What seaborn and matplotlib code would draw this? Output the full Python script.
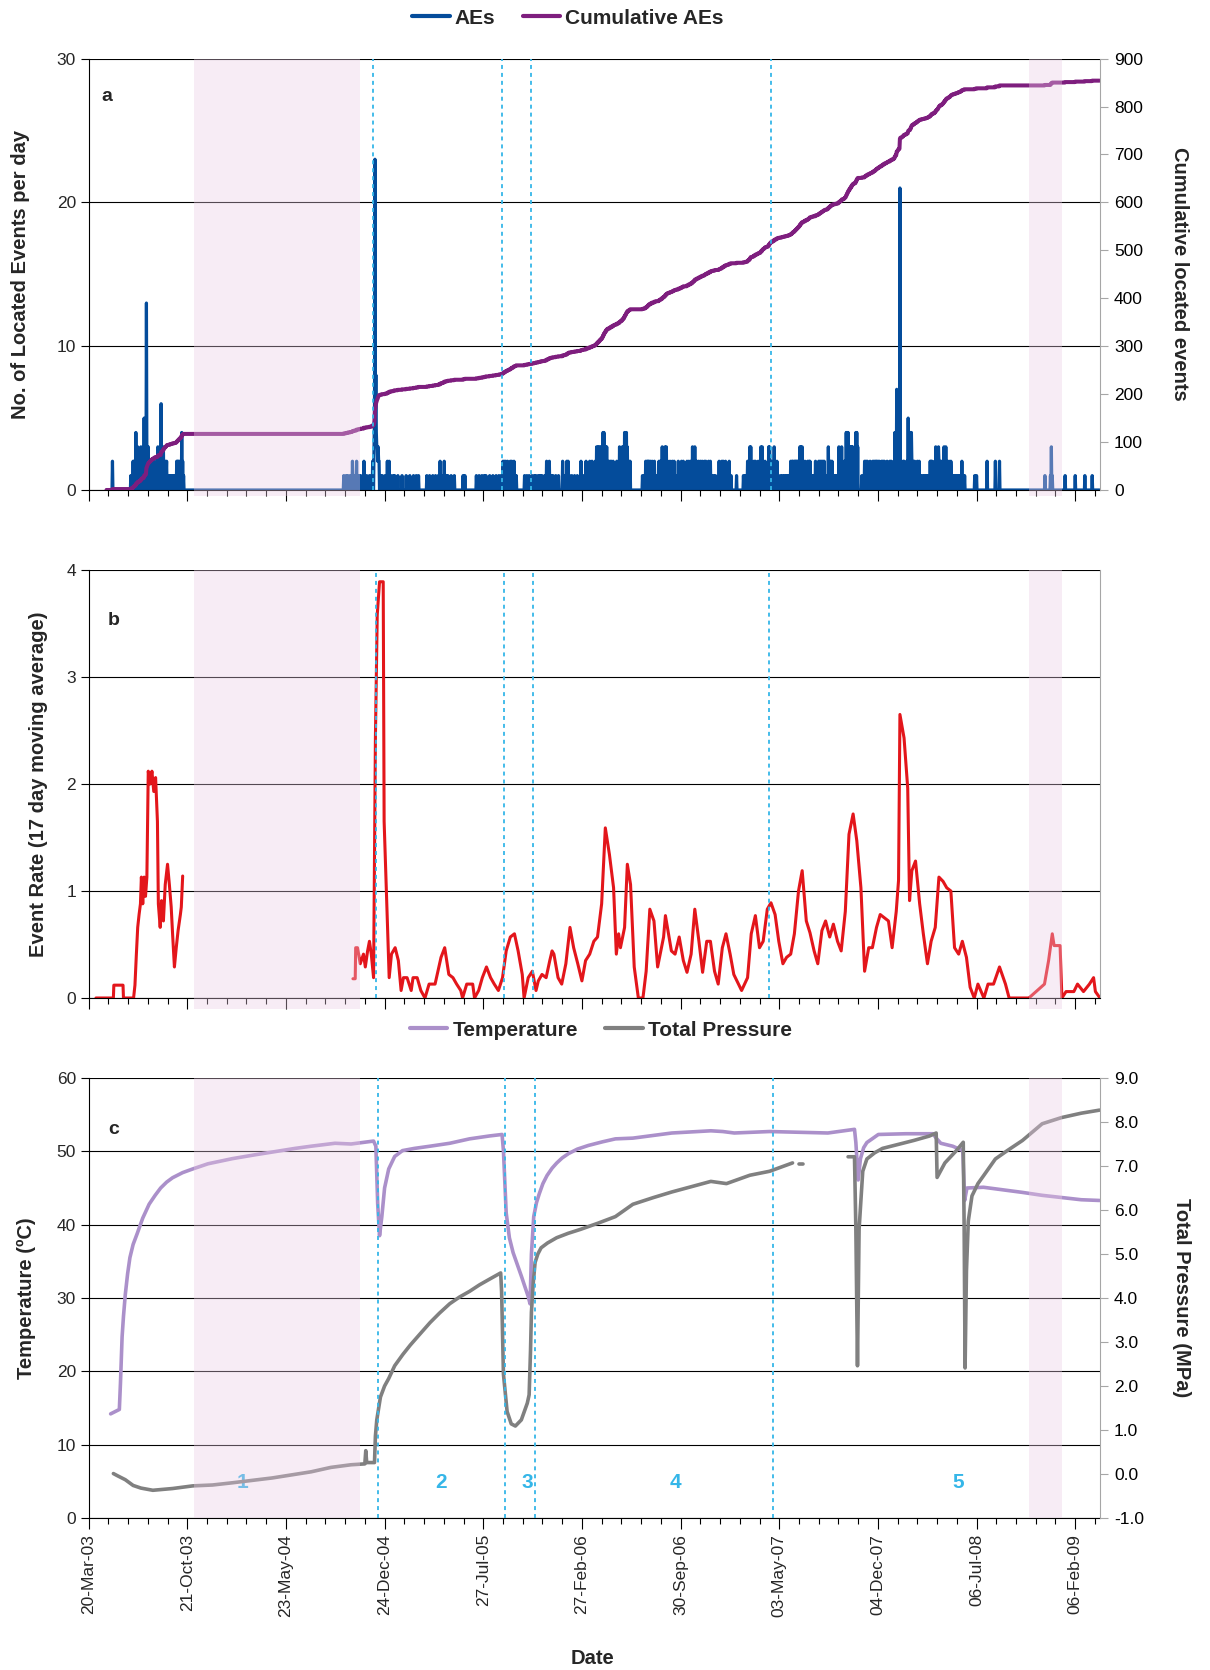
import numpy as np
import pandas as pd
import matplotlib
matplotlib.use("Agg")
import matplotlib.pyplot as plt
import matplotlib.dates as mdates
import matplotlib.transforms as mtrans
from matplotlib.lines import Line2D
from matplotlib.patches import Rectangle
from matplotlib.ticker import FixedLocator, FormatStrFormatter
import seaborn as sns

# ---------------------------------------------------------------- data
START = pd.Timestamp("2003-03-20")          # day 0 of the record
X_END_DAY = 2204
TICK_STEP, MINOR_STEP = 215, 43

# located acoustic emissions: (day, events located that day)
AE_RECORD = (39, 2203)
AE_EVENTS = [
    (52, 2), (92, 1), (95, 1), (97, 2), (99, 2), (101, 1), (103, 4), (105, 1), (107, 3), (110, 1), (112, 1),
    (114, 3), (116, 2), (118, 1), (121, 5), (124, 3), (126, 13), (127, 2), (128, 3), (129, 2), (130, 3),
    (132, 2), (134, 2), (136, 2), (138, 2), (141, 2), (144, 2), (147, 1), (151, 3), (154, 1), (158, 6),
    (160, 2), (161, 1), (163, 3), (165, 2), (166, 1), (167, 2), (169, 1), (170, 2), (172, 1), (176, 1),
    (179, 1), (182, 1), (186, 1), (190, 1), (192, 2), (194, 2), (196, 2), (197, 1), (199, 2), (201, 2),
    (203, 4), (205, 2), (207, 1),
    (556, 1), (561, 1), (565, 1), (570, 1), (575, 2), (579, 1), (584, 2), (589, 1), (593, 1), (600, 2),
    (606, 1), (612, 1), (617, 1), (619, 2), (622, 3), (623, 5), (624, 23), (625, 5), (626, 8), (627, 4),
    (628, 3), (629, 3), (630, 2), (631, 3), (632, 2), (633, 2), (636, 1), (640, 1), (646, 1), (651, 2),
    (655, 2), (659, 1), (664, 1), (667, 1), (674, 1), (683, 1), (692, 1), (700, 1), (708, 1), (714, 1),
    (719, 1), (737, 1), (743, 1), (750, 1), (756, 1), (762, 1), (766, 2), (769, 1), (772, 1), (775, 2),
    (779, 1), (783, 1), (790, 1), (797, 1), (816, 1), (820, 1), (845, 1), (851, 1), (857, 1), (862, 1),
    (866, 1), (874, 1), (881, 1), (888, 1), (894, 1), (899, 1), (903, 2), (906, 2), (909, 2), (913, 2),
    (916, 1), (919, 2), (922, 2), (925, 1), (927, 2), (930, 1), (932, 1), (950, 1), (955, 1), (960, 1),
    (966, 1), (971, 1), (975, 1), (980, 1), (984, 1), (988, 1), (994, 1), (998, 2), (1001, 1), (1004, 2),
    (1008, 1), (1012, 1), (1018, 1), (1024, 1), (1033, 2), (1038, 1), (1042, 2), (1045, 2), (1048, 1),
    (1053, 1), (1059, 1), (1065, 1), (1073, 2), (1078, 1), (1084, 2), (1088, 1), (1092, 2), (1097, 2),
    (1101, 1), (1104, 2), (1107, 3), (1110, 3), (1113, 3), (1116, 3), (1119, 3), (1121, 4), (1123, 4),
    (1125, 3), (1127, 3), (1129, 3), (1132, 2), (1136, 2), (1139, 2), (1143, 2), (1145, 1), (1147, 1),
    (1151, 2), (1154, 1), (1157, 3), (1160, 2), (1163, 3), (1166, 3), (1168, 4), (1170, 3), (1172, 4),
    (1174, 3), (1177, 2), (1180, 2), (1207, 1), (1211, 1), (1214, 2), (1217, 2), (1219, 2), (1221, 2),
    (1224, 2), (1228, 2), (1233, 2), (1237, 1), (1243, 2), (1246, 2), (1250, 3), (1253, 2), (1256, 3),
    (1259, 3), (1262, 2), (1267, 2), (1272, 2), (1276, 2), (1280, 1), (1285, 2), (1289, 1), (1292, 2),
    (1296, 2), (1304, 2), (1308, 2), (1312, 2), (1316, 3), (1319, 2), (1321, 3), (1325, 2), (1329, 2),
    (1333, 2), (1337, 2), (1342, 2), (1345, 2), (1348, 1), (1351, 2), (1355, 2), (1358, 1), (1362, 1),
    (1366, 1), (1374, 2), (1377, 1), (1380, 2), (1383, 2), (1386, 1), (1388, 2), (1392, 1), (1396, 2),
    (1400, 1), (1412, 1), (1427, 1), (1431, 1), (1436, 2), (1438, 2), (1441, 3), (1443, 3), (1447, 1),
    (1450, 2), (1453, 2), (1456, 1), (1459, 2), (1462, 1), (1465, 3), (1468, 3), (1470, 2), (1472, 1),
    (1474, 2), (1476, 1), (1479, 1), (1482, 3), (1484, 3), (1486, 2), (1488, 2), (1491, 1), (1494, 3),
    (1497, 1), (1500, 2), (1503, 1), (1508, 1), (1512, 1), (1516, 1), (1520, 1), (1524, 1), (1527, 1),
    (1530, 2), (1533, 2), (1535, 2), (1538, 2), (1540, 2), (1542, 2), (1544, 2), (1546, 2), (1548, 2),
    (1550, 3), (1552, 3), (1555, 3), (1558, 1), (1561, 2), (1564, 1), (1567, 2), (1570, 2), (1572, 2),
    (1576, 1), (1579, 1), (1584, 2), (1588, 1), (1591, 2), (1594, 2), (1597, 2), (1600, 2), (1603, 2),
    (1606, 1), (1610, 1), (1612, 3), (1615, 2), (1617, 2), (1620, 2), (1623, 1), (1627, 1), (1631, 1),
    (1635, 3), (1638, 2), (1641, 3), (1644, 1), (1647, 2), (1649, 2), (1651, 4), (1653, 4), (1655, 4),
    (1657, 3), (1659, 3), (1661, 3), (1663, 3), (1665, 3), (1668, 2), (1672, 4), (1674, 4), (1676, 3),
    (1685, 1), (1691, 2), (1694, 2), (1697, 2), (1700, 1), (1703, 2), (1706, 1), (1709, 2), (1712, 2),
    (1715, 2), (1717, 2), (1720, 2), (1723, 2), (1725, 1), (1728, 2), (1731, 2), (1734, 2), (1737, 1),
    (1740, 2), (1742, 1), (1746, 2), (1749, 2), (1752, 1), (1755, 2), (1757, 4), (1759, 3), (1761, 7),
    (1763, 2), (1764, 2), (1766, 2), (1768, 21), (1769, 2), (1772, 1), (1774, 1), (1775, 2), (1777, 2),
    (1780, 1), (1783, 2), (1786, 5), (1788, 2), (1791, 4), (1793, 4), (1794, 2), (1797, 2), (1800, 2),
    (1802, 1), (1804, 1), (1806, 2), (1808, 1), (1810, 2), (1813, 1), (1817, 1), (1821, 1), (1825, 1),
    (1828, 1), (1830, 1), (1832, 1), (1834, 2), (1836, 2), (1838, 2), (1841, 1), (1844, 2), (1846, 3),
    (1848, 2), (1850, 2), (1852, 3), (1853, 2), (1855, 2), (1858, 2), (1861, 1), (1862, 2), (1864, 3),
    (1866, 2), (1868, 3), (1870, 2), (1873, 1), (1875, 2), (1877, 1), (1879, 2), (1880, 1), (1882, 1),
    (1885, 1), (1888, 1), (1891, 1), (1894, 1), (1896, 1), (1899, 1), (1901, 1), (1903, 2), (1906, 1),
    (1909, 1), (1931, 1), (1935, 1), (1958, 2), (1976, 2), (1985, 2), (2084, 1), (2096, 1), (2098, 3),
    (2100, 1), (2128, 1), (2150, 1), (2171, 1), (2187, 1),
]

# event rate, 17 day moving average: (day, events/day) for the two monitored periods
RATE_PERIOD_1 = [
    (16, 0), (54, 0), (55, 0.12), (75, 0.12), (76, 0), (98, 0), (101, 0.12), (104, 0.4), (107, 0.66),
    (110, 0.78), (113, 0.88), (115, 1.13), (118, 0.88), (121, 1.13), (124, 0.95), (127, 1.13), (130, 2.12),
    (134, 2.0), (138, 2.12), (142, 1.93), (146, 2.06), (150, 1.65), (152, 0.88), (156, 0.66), (159, 0.91),
    (163, 0.72), (167, 1.06), (172, 1.25), (176, 1.06), (180, 0.85), (183, 0.6), (187, 0.29), (191, 0.47),
    (195, 0.63), (200, 0.78), (202, 0.85), (205, 1.14),
]
RATE_PERIOD_2 = [
    (576, 0.18), (581, 0.18), (582, 0.47), (586, 0.47), (592, 0.32), (599, 0.41), (603, 0.29), (608, 0.44),
    (612, 0.53), (616, 0.41), (621, 0.19), (625, 2.43), (629, 3.58), (634, 3.89), (642, 3.89), (644, 1.65),
    (651, 0.72), (655, 0.19), (660, 0.41), (668, 0.47), (675, 0.35), (681, 0.07), (686, 0.19), (694, 0.19),
    (703, 0.07), (707, 0.19), (716, 0.19), (724, 0.07), (733, 0.0), (742, 0.13), (755, 0.13), (768, 0.38),
    (776, 0.47), (785, 0.22), (794, 0.19), (802, 0.13), (811, 0.07), (815, 0.0), (824, 0.13), (837, 0.13),
    (841, 0.0), (850, 0.07), (858, 0.19), (867, 0.29), (876, 0.19), (884, 0.13), (893, 0.07), (902, 0.19),
    (910, 0.44), (919, 0.57), (928, 0.6), (936, 0.44), (945, 0.22), (949, 0.0), (958, 0.19), (967, 0.25),
    (975, 0.07), (980, 0.16), (988, 0.22), (997, 0.19), (1005, 0.35), (1010, 0.44), (1014, 0.41),
    (1023, 0.19), (1031, 0.13), (1040, 0.32), (1049, 0.66), (1057, 0.47), (1066, 0.32), (1075, 0.16),
    (1083, 0.35), (1092, 0.41), (1101, 0.53), (1109, 0.57), (1118, 0.88), (1126, 1.59), (1135, 1.34),
    (1144, 1.03), (1150, 0.41), (1155, 0.6), (1159, 0.47), (1168, 0.66), (1174, 1.25), (1181, 1.06),
    (1189, 0.29), (1198, 0.0), (1208, 0.0), (1215, 0.25), (1223, 0.83), (1232, 0.72), (1240, 0.29),
    (1253, 0.57), (1257, 0.77), (1270, 0.44), (1278, 0.41), (1287, 0.57), (1296, 0.35), (1304, 0.24),
    (1313, 0.41), (1321, 0.83), (1330, 0.53), (1338, 0.24), (1347, 0.53), (1355, 0.53), (1364, 0.25),
    (1372, 0.13), (1381, 0.47), (1389, 0.6), (1398, 0.41), (1406, 0.22), (1423, 0.07), (1436, 0.19),
    (1444, 0.6), (1453, 0.77), (1462, 0.47), (1470, 0.53), (1479, 0.83), (1487, 0.89), (1496, 0.78),
    (1504, 0.53), (1513, 0.32), (1521, 0.38), (1530, 0.41), (1538, 0.6), (1547, 1.0), (1555, 1.19),
    (1564, 0.72), (1572, 0.61), (1581, 0.44), (1589, 0.32), (1598, 0.63), (1606, 0.72), (1615, 0.57),
    (1623, 0.69), (1632, 0.53), (1640, 0.44), (1649, 0.81), (1657, 1.53), (1666, 1.72), (1674, 1.47),
    (1683, 1.03), (1691, 0.25), (1700, 0.47), (1708, 0.47), (1717, 0.66), (1725, 0.78), (1734, 0.75),
    (1743, 0.72), (1751, 0.47), (1760, 0.81), (1765, 1.1), (1768, 2.65), (1777, 2.43), (1785, 1.96),
    (1789, 0.91), (1794, 1.19), (1802, 1.28), (1811, 0.88), (1819, 0.6), (1828, 0.32), (1836, 0.53),
    (1845, 0.66), (1853, 1.13), (1862, 1.09), (1870, 1.03), (1879, 1.0), (1887, 0.47), (1896, 0.41),
    (1904, 0.53), (1913, 0.38), (1921, 0.1), (1930, 0.0), (1938, 0.13), (1951, 0.0), (1960, 0.13),
    (1972, 0.13), (1985, 0.29), (1998, 0.13), (2006, 0.0), (2049, 0.0), (2083, 0.13), (2092, 0.35),
    (2100, 0.6), (2104, 0.49), (2117, 0.49), (2121, 0.0), (2130, 0.06), (2147, 0.06), (2155, 0.13),
    (2168, 0.06), (2181, 0.13), (2190, 0.19), (2194, 0.06), (2204, 0.0),
]

# temperature (degC)
TEMPERATURE = [
    (48, 14.2), (67, 14.8), (69.5, 18.5), (73, 24.7), (76, 27.5), (80, 30.5), (85, 33.3), (90, 35.5),
    (97, 37.3), (106, 38.8), (118, 40.9), (132, 42.8), (145, 44.0), (157, 45.0), (170, 45.8), (183, 46.4),
    (205, 47.1), (227, 47.6), (260, 48.3), (313, 49.0), (360, 49.5), (400, 49.9), (450, 50.4), (485, 50.7),
    (537, 51.1), (572, 51.0), (621, 51.4), (626, 50.7), (630, 42.8), (634, 38.5), (639, 41.1), (645, 45.0),
    (654, 47.6), (667, 49.3), (684, 50.1), (710, 50.4), (744, 50.7), (787, 51.1), (830, 51.7), (874, 52.1),
    (901, 52.3), (904, 50.1), (910, 41.6), (917, 38.2), (925, 36.2), (934, 34.6), (943, 33.0), (951, 31.5),
    (958, 30.2), (962, 29.2), (965, 36.0), (970, 41.1), (976, 43.0), (982, 44.2), (990, 45.6), (999, 46.7),
    (1010, 47.7), (1020, 48.4), (1032, 49.1), (1046, 49.7), (1065, 50.3), (1089, 50.8), (1120, 51.3),
    (1148, 51.7), (1186, 51.8), (1271, 52.5), (1356, 52.8), (1382, 52.7), (1407, 52.5), (1484, 52.7),
    (1611, 52.5), (1669, 53.0), (1672, 51.2), (1677, 46.1), (1682, 49.0), (1689, 50.5), (1696, 51.2),
    (1721, 52.3), (1781, 52.4), (1840, 52.4), (1847, 51.8), (1857, 51.1), (1883, 50.7), (1905, 50.1),
    (1909, 43.3), (1914, 45.0), (1950, 45.1), (2035, 44.4), (2078, 44.0), (2163, 43.4), (2203, 43.3),
]

# total pressure (MPa), three recorded stretches
PRESSURE_1 = [
    (54, 0.01), (63, -0.04), (80, -0.13), (97, -0.26), (114, -0.32), (140, -0.37), (183, -0.33),
    (227, -0.27), (270, -0.25), (313, -0.2), (400, -0.09), (485, 0.05), (528, 0.15), (572, 0.21),
    (602, 0.23), (604, 0.53), (606, 0.26), (623, 0.26), (625, 0.86), (628, 1.23), (636, 1.75), (645, 2.0),
    (654, 2.17), (667, 2.46), (685, 2.72), (701, 2.93), (722, 3.18), (744, 3.44), (765, 3.66), (787, 3.87),
    (808, 4.02), (830, 4.15), (852, 4.3), (874, 4.43), (898, 4.57), (900, 4.15), (904, 2.27), (912, 1.42),
    (921, 1.14), (930, 1.09), (943, 1.23), (956, 1.61), (960, 1.8), (963, 2.8), (965, 3.68), (969, 4.35),
    (973, 4.81), (979, 5.0), (986, 5.14), (1000, 5.25), (1020, 5.37), (1045, 5.47), (1072, 5.56),
    (1110, 5.7), (1148, 5.85), (1186, 6.13), (1230, 6.28), (1271, 6.41), (1310, 6.52), (1356, 6.65),
    (1390, 6.6), (1441, 6.79), (1484, 6.88), (1534, 7.07),
]
PRESSURE_2 = [(1547, 7.05), (1556, 7.05)]
PRESSURE_3 = [
    (1655, 7.21), (1669, 7.21), (1672, 5.56), (1675.5, 2.46), (1679, 5.56), (1687, 6.88), (1696, 7.16),
    (1713, 7.3), (1730, 7.4), (1764, 7.49), (1798, 7.58), (1832, 7.68), (1847, 7.75), (1849, 6.74),
    (1866, 7.07), (1891, 7.35), (1906, 7.54), (1908, 5.56), (1910, 2.41), (1913, 4.62), (1917, 5.75),
    (1925, 6.32), (1938, 6.6), (1951, 6.79), (1976, 7.16), (2002, 7.35), (2035, 7.58), (2078, 7.96),
    (2120, 8.1), (2163, 8.2), (2203, 8.27),
]

# shaded periods, stage boundaries and stage numbers
SHADED = [(229, 591), (2050, 2122)]
STAGE_LINES = {"a": [620, 901, 965, 1487], "b": [626, 905, 969, 1482], "c": [630, 908, 973, 1492]}
STAGES = [("1", 336), ("2", 768), ("3", 956), ("4", 1279), ("5", 1896)]

# ---------------------------------------------------------------- style
BLUE, PURPLE, RED = "#044C9B", "#7E1E7E", "#E3161B"
LAVENDER, GREY, CYAN = "#AB90CA", "#808080", "#35B6E8"
SHADE, SHADE_ALPHA = "#EBCBE5", 0.36
RIGHT_SPINE = "#A6A6A6"

sns.set_theme(style="white")
plt.rcParams["font.family"] = ["Liberation Sans", "DejaVu Sans"]
plt.rcParams["axes.linewidth"] = 0.8
TICK_FS, LABEL_FS = 12.5, 14.5


def dates(days):
    return START + pd.to_timedelta(np.asarray(days, dtype=float), unit="D")


def frame(pairs, name):
    arr = np.asarray(pairs, dtype=float)
    return pd.DataFrame({"date": dates(arr[:, 0]), name: arr[:, 1]})


days = np.arange(AE_RECORD[0], AE_RECORD[1] + 1)
counts = np.zeros(days.size)
ev = np.asarray(AE_EVENTS)
np.add.at(counts, ev[:, 0] - AE_RECORD[0], ev[:, 1])
ae = pd.DataFrame({"date": dates(days), "AEs": counts, "cumulative": np.cumsum(counts)})

rate = pd.concat([frame(RATE_PERIOD_1, "rate").assign(seg=1),
                  frame(RATE_PERIOD_2, "rate").assign(seg=2)], ignore_index=True)
temp = frame(TEMPERATURE, "temperature")
press = pd.concat([frame(p, "pressure").assign(seg=i)
                   for i, p in enumerate([PRESSURE_1, PRESSURE_2, PRESSURE_3])], ignore_index=True)

# ---------------------------------------------------------------- figure
W_PX, H_PX = 1210, 1670
fig = plt.figure(figsize=(W_PX / 100, H_PX / 100), dpi=100)
X_LEFT, X_RIGHT = 88.6, 1100.0


def box(top, bottom):
    return [X_LEFT / W_PX, 1 - bottom / H_PX, (X_RIGHT - X_LEFT) / W_PX, (bottom - top) / H_PX]


ax_a = fig.add_axes(box(58.6, 490))
ax_b = fig.add_axes(box(570, 998))
ax_c = fig.add_axes(box(1078, 1518))
ax_a2 = ax_a.twinx()
ax_c2 = ax_c.twinx()

sns.lineplot(data=ae, x="date", y="AEs", ax=ax_a, color=BLUE, lw=2.3, estimator=None)
sns.lineplot(data=ae, x="date", y="cumulative", ax=ax_a2, color=PURPLE, lw=2.9, estimator=None)
sns.lineplot(data=rate, x="date", y="rate", units="seg", estimator=None, ax=ax_b, color=RED, lw=2.2)
sns.lineplot(data=temp, x="date", y="temperature", ax=ax_c, color=LAVENDER, lw=2.6, estimator=None)
sns.lineplot(data=press, x="date", y="pressure", units="seg", estimator=None, ax=ax_c2, color=GREY, lw=2.6)

x_lim = (dates([0])[0], dates([X_END_DAY])[0])
majors = mdates.date2num(dates(np.arange(0, X_END_DAY, TICK_STEP)))
minors = mdates.date2num(dates(np.arange(0, X_END_DAY, MINOR_STEP)))

for ax, ylim, yt in [(ax_a, (0, 30), np.arange(0, 31, 10)),
                     (ax_b, (0, 4), np.arange(0, 5, 1)),
                     (ax_c, (0, 60), np.arange(0, 61, 10))]:
    ax.set_ylim(*ylim)
    ax.set_yticks(yt)
    ax.yaxis.grid(True, color="black", lw=0.8)
    ax.xaxis.grid(False)
    ax.set_axisbelow(True)
    ax.set_xlabel("")
    ax.set_ylabel("")
    ax.xaxis.set_major_locator(FixedLocator(majors))
    ax.xaxis.set_minor_locator(FixedLocator(minors))
    ax.xaxis.set_major_formatter(mdates.DateFormatter("%d-%b-%y"))
    ax.tick_params(axis="x", which="major", bottom=True, direction="out", length=8, width=0.8,
                   color="black", labelsize=TICK_FS)
    ax.tick_params(axis="x", which="minor", bottom=True, direction="out", length=4, width=0.8, color="black")
    ax.tick_params(axis="y", left=True, direction="out", length=6, width=0.8, color="black",
                   labelsize=TICK_FS, pad=3)
    for s in ("top", "right"):
        ax.spines[s].set_visible(False)
    for s in ("left", "bottom"):
        ax.spines[s].set_color("black")
        ax.spines[s].set_linewidth(0.8)

ax_a.tick_params(axis="x", labelbottom=False)
ax_b.tick_params(axis="x", labelbottom=False)
for lab in ax_c.get_xticklabels():
    lab.set_rotation(90)

# panel b keeps a grey frame line on the right
ax_b.spines["right"].set_visible(True)
ax_b.spines["right"].set_color(RIGHT_SPINE)

for ax2, ylim, yt, fmt in [(ax_a2, (0, 900), np.arange(0, 901, 100), "%d"),
                           (ax_c2, (-1, 9), np.arange(-1, 9.01, 1), "%.1f")]:
    ax2.set_ylim(*ylim)
    ax2.set_yticks(yt)
    ax2.yaxis.set_major_formatter(FormatStrFormatter(fmt))
    ax2.grid(False)
    ax2.set_ylabel("")
    ax2.tick_params(axis="y", right=True, direction="out", length=6, width=0.8, color=RIGHT_SPINE,
                    labelcolor="black", labelsize=TICK_FS, pad=4)
    for s in ("top", "left", "bottom"):
        ax2.spines[s].set_visible(False)
    ax2.spines["right"].set_color(RIGHT_SPINE)
    ax2.spines["right"].set_linewidth(0.8)

# stage numbers (under the shading)
for txt, d in STAGES:
    ax_c.text(dates([d])[0], 4.8, txt, color=CYAN, fontsize=15, fontweight="bold",
              ha="center", va="center", zorder=3)


def shade(ax, y_low):
    trans = mtrans.blended_transform_factory(ax.transData, ax.transAxes)
    for d0, d1 in SHADED:
        x0, x1 = mdates.date2num(dates([d0, d1]))
        ax.add_patch(Rectangle((x0, y_low), x1 - x0, 1 - y_low, transform=trans, facecolor=SHADE,
                               alpha=SHADE_ALPHA, lw=0, zorder=10, clip_on=False))


def stage_lines(ax, key):
    for d in STAGE_LINES[key]:
        ax.axvline(dates([d])[0], color=CYAN, lw=1.3, ls=(0, (2.2, 2.2)), zorder=8)


stage_lines(ax_a2, "a")
stage_lines(ax_b, "b")
stage_lines(ax_c2, "c")
shade(ax_a2, -0.015)
shade(ax_b, -0.025)
shade(ax_c2, 0.0)
for ax in (ax_a, ax_b, ax_c, ax_a2, ax_c2):
    ax.set_xlim(*x_lim)

# panel letters
for ax, letter, (xf, yf) in [(ax_a2, "a", (0.018, 0.913)), (ax_b, "b", (0.025, 0.883)),
                             (ax_c2, "c", (0.025, 0.884))]:
    ax.text(xf, yf, letter, transform=ax.transAxes, fontsize=14, fontweight="bold",
            ha="center", va="center")

# axis titles
bold = dict(fontsize=LABEL_FS, fontweight="bold", ha="center", va="center")
fig.text(21 / W_PX, 1 - 274 / H_PX, "No. of Located Events per day", rotation=90, **bold)
fig.text(1180 / W_PX, 1 - 274 / H_PX, "Cumulative located events", rotation=270, **bold)
fig.text(39 / W_PX, 1 - 784 / H_PX, "Event Rate (17 day moving average)", rotation=90, **bold)
fig.text(26 / W_PX, 1 - 1298 / H_PX, "Temperature (\u00baC)", rotation=90, **bold)
fig.text(1182 / W_PX, 1 - 1298 / H_PX, "Total Pressure (MPa)", rotation=270, **bold)
fig.text(592 / W_PX, 1 - 1658 / H_PX, "Date", **bold)

# legends
leg_kw = dict(frameon=False, ncol=2, handlelength=1.8, handletextpad=0.25, columnspacing=1.3,
              prop={"weight": "bold", "size": 15}, loc="center")
fig.legend([Line2D([], [], color=BLUE, lw=3), Line2D([], [], color=PURPLE, lw=3)],
           ["AEs", "Cumulative AEs"], bbox_to_anchor=(568 / W_PX, 1 - 18 / H_PX), **leg_kw)
fig.legend([Line2D([], [], color=LAVENDER, lw=3), Line2D([], [], color=GREY, lw=3)],
           ["Temperature", "Total Pressure"], bbox_to_anchor=(601 / W_PX, 1 - 1030 / H_PX), **leg_kw)

fig.savefig("out.png", dpi=100)
